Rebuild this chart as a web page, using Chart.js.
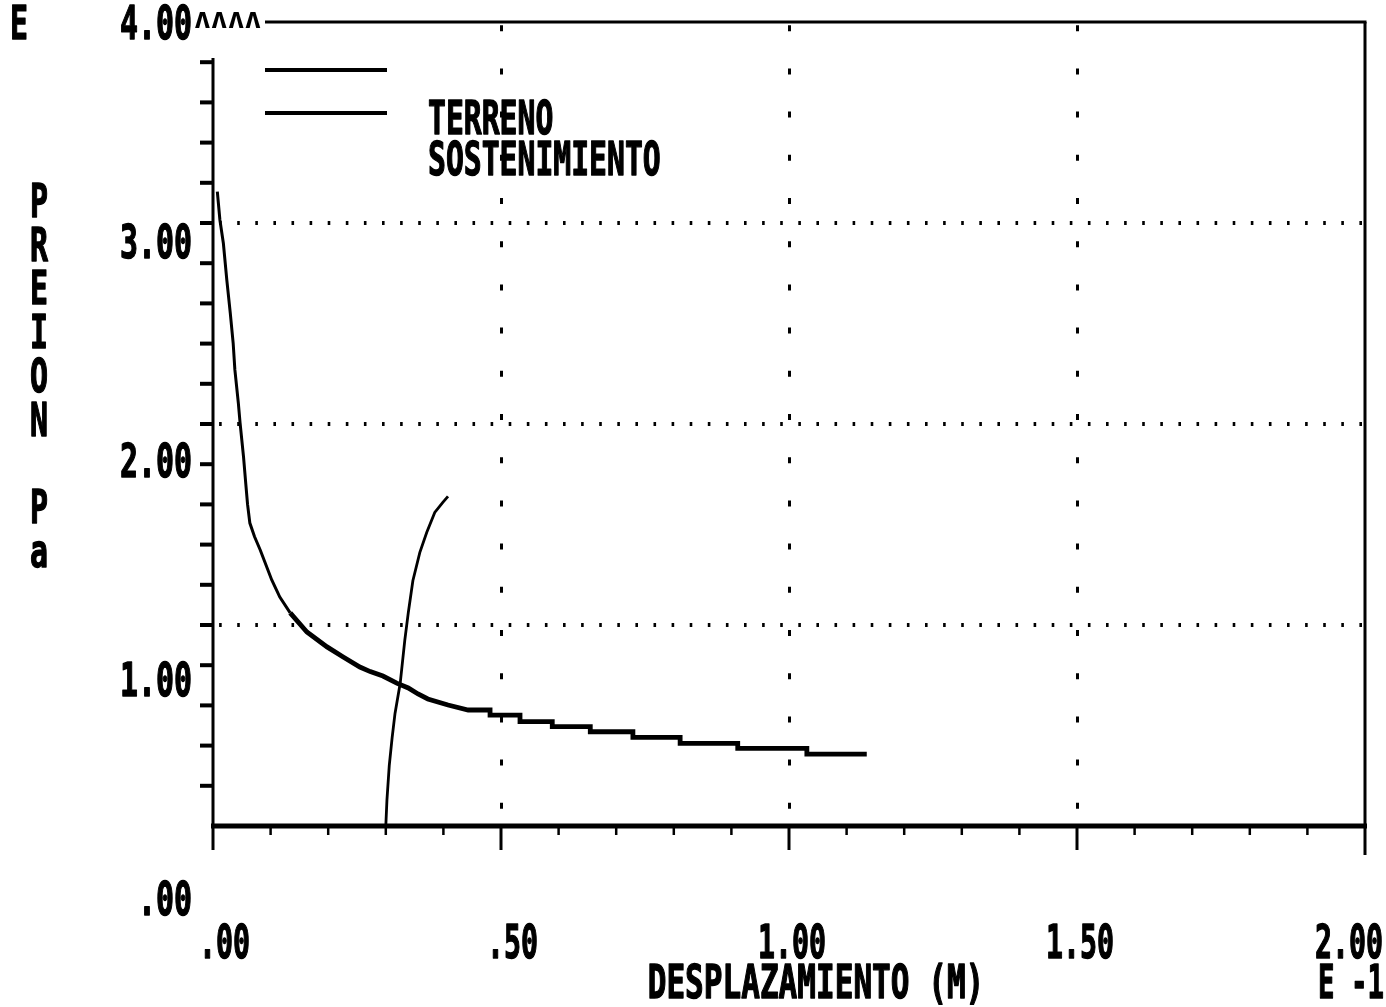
<!DOCTYPE html>
<html>
<head>
<meta charset="utf-8">
<script src="https://cdn.jsdelivr.net/npm/chart.js@4.4.0/dist/chart.umd.min.js"></script>
<style>
  html, body { margin: 0; padding: 0; background: #fff; }
  #wrap { width: 1386px; height: 1007px; position: relative; }
</style>
</head>
<body>
<div id="wrap"><canvas id="c"></canvas></div>
<script>
// ---------------- data ----------------
const seriesNames = ['TERRENO', 'SOSTENIMIENTO'];

// Ground reaction curve (x: displacement, E-1 m ; y: pressure)
const terrenoX = [0.0075, 0.012, 0.018, 0.024, 0.030, 0.035, 0.038, 0.044, 0.047, 0.053,
                  0.057, 0.060, 0.064, 0.072, 0.082, 0.102, 0.116, 0.134, 0.163, 0.198,
                  0.226, 0.255, 0.273, 0.295, 0.319, 0.339, 0.356, 0.373, 0.408, 0.443,
                  0.481, 0.481, 0.533, 0.533, 0.589, 0.589, 0.655, 0.655, 0.729, 0.729,
                  0.811, 0.811, 0.911, 0.911, 1.031, 1.031, 1.135];
const terrenoY = [3.156, 3.015, 2.899, 2.716, 2.552, 2.403, 2.269, 2.104, 2.005, 1.836,
                  1.700, 1.600, 1.507, 1.440, 1.373, 1.224, 1.139, 1.060, 0.965, 0.891,
                  0.841, 0.791, 0.768, 0.746, 0.711, 0.687, 0.657, 0.632, 0.602, 0.577,
                  0.577, 0.552, 0.552, 0.519, 0.519, 0.494, 0.494, 0.469, 0.469, 0.441,
                  0.441, 0.411, 0.411, 0.386, 0.386, 0.358, 0.358];

// Support curve
const sostenX = [0.300, 0.302, 0.306, 0.311, 0.316, 0.325, 0.333, 0.339, 0.347, 0.359, 0.371, 0.385, 0.399, 0.408];
const sostenY = [0.000, 0.130, 0.300, 0.440, 0.560, 0.710, 0.925, 1.060, 1.220, 1.360, 1.460, 1.560, 1.610, 1.640];

const xTickValues = [0, 0.5, 1.0, 1.5, 2.0];
const xTickLabels = ['.00', '.50', '1.00', '1.50', '2.00'];
const yTickValues = [0, 1, 2, 3, 4];
const yTickLabels = ['.00', '1.00', '2.00', '3.00', '4.00'];
const xMinorStep = 0.1;
const yMinorStep = 0.2;
const xTitle = 'DESPLAZAMIENTO (M)';
const xExponent = 'E -1';
const yTitleChars = ['P', 'R', 'E', 'I', 'O', 'N', ' ', 'P', 'a'];
const yExponent = 'E';
const topMarks = 'ʌʌʌʌ';

// ---------------- drawing helpers ----------------
const INK = '#000';
const FONT = '"DejaVu Sans Mono", "Liberation Mono", monospace';
const FONT_PX = 46;
const CAP = FONT_PX * 0.729;

function seg(ctx, x1, y1, x2, y2, w) {
  ctx.save();
  ctx.strokeStyle = INK;
  ctx.lineWidth = w;
  ctx.lineCap = 'butt';
  ctx.beginPath();
  ctx.moveTo(x1, y1);
  ctx.lineTo(x2, y2);
  ctx.stroke();
  ctx.restore();
}
function txt(ctx, s, x, yCenter, align, cell) {
  ctx.save();
  ctx.font = `bold ${FONT_PX}px ${FONT}`;
  ctx.textAlign = align;
  ctx.textBaseline = 'alphabetic';
  ctx.fillStyle = INK;
  ctx.strokeStyle = INK;
  ctx.lineWidth = 1.4;
  ctx.lineJoin = 'round';
  const w = s.length * cell;
  ctx.fillText(s, x, yCenter + CAP / 2, w);
  ctx.strokeText(s, x, yCenter + CAP / 2, w);
  ctx.restore();
}

const plotterPlugin = {
  id: 'plotter',
  afterDraw(chart) {
    const ctx = chart.ctx;
    const a = chart.chartArea;
    const xs = chart.scales.x, ys = chart.scales.y;

    // frame / axes
    seg(ctx, a.left - 2, a.bottom, a.right + 2, a.bottom, 5);          // x axis
    seg(ctx, a.left, a.top + 36, a.left, a.bottom + 24, 3);             // y axis
    seg(ctx, a.left + 52, a.top, a.right + 1.5, a.top, 3);              // top border
    seg(ctx, a.right, a.top, a.right, a.bottom + 29, 3);                // right border

    // y tick marks
    for (let v = yMinorStep; v < ys.max - 1e-6; v += yMinorStep) {
      const p = ys.getPixelForValue(v);
      seg(ctx, a.left - 13, p, a.left, p, 4);
    }
    // x tick marks
    for (let v = xMinorStep; v < xs.max - 1e-6; v += xMinorStep) {
      const p = xs.getPixelForValue(v);
      const major = Math.abs(v / 0.5 - Math.round(v / 0.5)) < 1e-6;
      seg(ctx, p, a.bottom, p, a.bottom + (major ? 24 : 9), major ? 3 : 2.5);
    }

    // y tick labels (plotter drifts them downward)
    yTickValues.forEach((v, i) => {
      const p = ys.getPixelForValue(v) + 72 - 18 * v;
      txt(ctx, yTickLabels[i], a.left - 21, p, 'right', 18);
    });
    const p4 = ys.getPixelForValue(ys.max) + 72 - 18 * ys.max;
    ctx.save();
    ctx.font = `bold 28px ${FONT}`;
    ctx.fillStyle = INK;
    ctx.textAlign = 'left';
    ctx.textBaseline = 'alphabetic';
    ctx.fillText(topMarks, a.left - 19, a.top + 6, 68);
    ctx.restore();

    // y exponent + vertical title
    txt(ctx, yExponent, 19, p4, 'center', 18);
    yTitleChars.forEach((ch, i) => {
      if (ch.trim()) txt(ctx, ch, 39, 200 + i * 43.8, 'center', 18);
    });

    // x tick labels
    const labY = a.bottom + 115;
    xTickValues.forEach((v, i) => {
      const p = Math.min(xs.getPixelForValue(v) + 37, chart.width - 3);
      txt(ctx, xTickLabels[i], p, labY, 'right', 17);
    });
    // x title + exponent
    txt(ctx, xTitle, 816, a.bottom + 155, 'center', 18.7);
    txt(ctx, xExponent, chart.width - 2, a.bottom + 155, 'right', 16.5);

    // legend
    chart.data.datasets.forEach((ds, i) => {
      const ly = a.top + 48 + i * 43;
      seg(ctx, a.left + 52, ly, a.left + 174, ly, 4);
      txt(ctx, ds.label, a.left + 215, a.top + 95 + i * 41, 'left', 17.9);
    });
  }
};

// ---------------- chart ----------------
const toPts = (xsArr, ysArr) => xsArr.map((x, i) => ({ x: x, y: ysArr[i] }));

new Chart(document.getElementById('c'), {
  type: 'line',
  data: {
    datasets: [
      { label: seriesNames[0], data: toPts(terrenoX, terrenoY), borderColor: INK, borderWidth: 3,
        pointRadius: 0, tension: 0, fill: false, borderJoinStyle: 'miter',
        segment: { borderWidth: c => (c.p0.parsed.x > 0.12 ? 4.8 : 3) } },
      { label: seriesNames[1], data: toPts(sostenX, sostenY), borderColor: INK, borderWidth: 2.8,
        pointRadius: 0, tension: 0, fill: false }
    ]
  },
  options: {
    responsive: true,
    maintainAspectRatio: false,
    animation: false,
    layout: { padding: { top: 22, right: 21, left: 0, bottom: 0 } },
    plugins: { legend: { display: false }, tooltip: { enabled: false }, title: { display: false } },
    scales: {
      x: {
        type: 'linear', min: 0, max: 2,
        ticks: { display: false, stepSize: 0.5 },
        grid: {
          drawTicks: false, lineWidth: 3,
          color: c => (c.tick && c.tick.value > 0 && c.tick.value < 2) ? INK : 'rgba(0,0,0,0)'
        },
        border: { display: false, dash: [6, 37.2], dashOffset: 40 },
        afterFit: s => { s.height = 181; }
      },
      y: {
        type: 'linear', min: 0, max: 4,
        ticks: { display: false, stepSize: 1 },
        grid: {
          drawTicks: false, lineWidth: 4,
          color: c => (c.tick && c.tick.value > 0 && c.tick.value < 4) ? INK : 'rgba(0,0,0,0)'
        },
        border: { display: false, dash: [2.6, 15.5], dashOffset: 12 },
        afterFit: s => { s.width = 213; }
      }
    }
  },
  plugins: [plotterPlugin]
});
</script>
</body>
</html>
